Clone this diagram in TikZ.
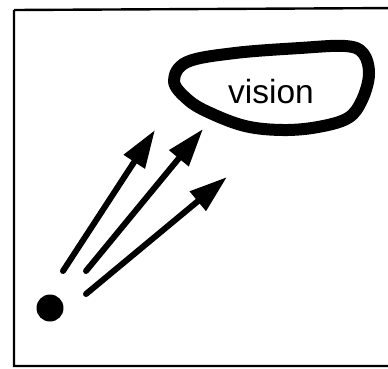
\documentclass[tikz,border=0pt]{standalone}
\usepackage{fontspec}
\newfontfamily\visionfont{Liberation Sans}
\usepackage{tikz}
\usetikzlibrary{arrows.meta}
\usetikzlibrary{positioning}

\begin{document}
\begin{tikzpicture}[
    x=1pt,
    y=-1pt,
    frame/.style={
        draw,
        line width=2.4pt
    },
    blob/.style={
        draw,
        line width=12pt,
        line join=round
    },
    label/.style={
        font=\visionfont\fontsize{33.5}{40}\selectfont,
        anchor=base,
        inner sep=0pt
    },
    eye/.style={
        circle,
        fill=black,
        minimum size=27pt,
        inner sep=0pt
    },
    ray/.style={
        line width=6pt,
        line cap=round,
        -{Triangle[length=38pt,width=24pt]}
    }
]

\clip (0,0) rectangle (388,368);

% Frame (right side runs off the page)
\draw[frame] (14,10) -- (400,8) (14,10) -- (14,366) -- (400,366);

% Vision area
\draw[blob] plot[smooth cycle, tension=0.6] coordinates {
    (174,81) (187,62) (235,53) (300,48) (345,46) (363,53)
    (369,74) (362,100) (348,118) (318,127) (283,130)
    (245,126) (208,112) (187,99)};
\node[label] (vision) at (271,103) {vision};

% Source point
\node[eye] (dot) at (50,308) {};

% Ray ends
\coordinate (tailA) at (63,271);
\coordinate (tipA) at (155,130);
\coordinate (tailB) at (86,271);
\coordinate (tipB) at (203,129);
\coordinate (tailC) at (86,294);
\coordinate (tipC) at (227,177);

% Arrows
\draw[ray] (tailA) -- (tipA);
\draw[ray] (tailB) -- (tipB);
\draw[ray] (tailC) -- (tipC);

\end{tikzpicture}
\end{document}
